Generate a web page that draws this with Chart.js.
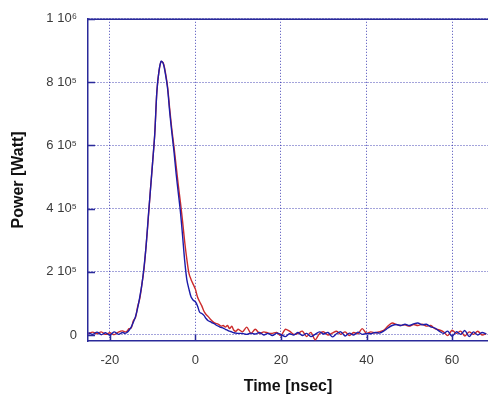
<!DOCTYPE html>
<html>
<head>
<meta charset="utf-8">
<script src="https://cdn.jsdelivr.net/npm/chart.js@4/dist/chart.umd.min.js"></script>
<style>
html,body{margin:0;padding:0;background:#fff;}
#wrap{width:488px;height:400px;}
</style>
</head>
<body>
<div id="wrap"><canvas id="c" width="488" height="400"></canvas></div>
<script>
// Time in nsec
const time = [-25,-24,-23,-22,-21,-20,-19,-18,-17,
 -16.5,-16,-15.5,-15,-14.5,-14,-13.5,-13,-12.5,-12,-11.5,-11,-10.5,-10,-9.5,-9,-8.5,-8,-7.5,-7,-6.5,-6,-5.5,-5,-4.5,-4,-3.5,-3,-2.5,-2,-1.5,-1,-0.5,0,0.5,1,1.5,2,2.5,3,3.5,4,4.5,5,5.5,6,6.5,7,7.5,8,8.5,9,9.5,10,
 11,12,13,14,15,16,17,18,19,20,21,22,23,24,25,26,27,28,29,30,31,32,33,34,35,36,37,38,39,40,41,42,43,44,45,46,47,48,49,50,51,52,53,54,55,56,57,58,59,60,61,62,63,64,65,66,67,68];

// Power in units of 1e5 W
const powerBlue = [0.07,0.02,0.09,0.01,0.07,-0.01,0.1,0.02,0.08,
 0.05,0.08,0.15,0.25,0.4,0.58,0.85,1.2,1.6,2.15,2.85,3.75,4.6,5.45,6.35,7.7,8.35,8.66,8.58,8.25,7.8,7.05,6.4,5.8,5.1,4.5,3.9,3.15,2.35,1.75,1.45,1.2,1.1,1.05,0.92,0.72,0.68,0.62,0.52,0.45,0.42,0.38,0.35,0.3,0.27,0.24,0.22,0.18,0.15,0.12,0.1,0.07,0.06,0.05,
 0.05,0.02,0.06,0.03,0.08,0.0,0.05,-0.02,0.06,0.02,-0.05,0.04,0.0,0.08,-0.02,0.05,-0.05,0.02,0.1,0.03,0.08,-0.06,0.04,0.1,-0.03,0.06,0.0,0.09,0.02,0.05,0.04,0.08,0.06,0.12,0.22,0.3,0.33,0.3,0.34,0.3,0.35,0.38,0.32,0.34,0.26,0.22,0.12,0.05,0.12,-0.04,0.1,0.02,0.14,-0.05,0.1,0.0,0.08,0.03];

const powerRed = [0.04,0.09,0.04,0.1,0.02,0.07,0.01,0.09,0.13,
 0.1,0.12,0.2,0.22,0.45,0.55,0.9,1.15,1.6,2.1,2.85,3.7,4.6,5.45,6.35,7.7,8.35,8.65,8.6,8.3,7.85,7.15,6.5,5.95,5.35,4.75,4.2,3.6,2.95,2.4,1.95,1.75,1.6,1.45,1.2,1.05,0.92,0.75,0.65,0.58,0.5,0.43,0.38,0.36,0.33,0.28,0.3,0.25,0.3,0.2,0.28,0.15,0.12,0.18,
 0.1,0.25,0.05,0.18,0.05,0.1,0.06,0.05,0.08,-0.02,0.18,0.12,0.02,0.05,0.12,-0.05,0.08,-0.15,0.04,0.1,0.0,0.06,0.12,0.02,0.1,-0.02,0.08,0.04,0.2,0.05,0.1,0.07,0.1,0.15,0.28,0.38,0.33,0.3,0.32,0.28,0.33,0.3,0.34,0.28,0.3,0.2,0.16,0.1,-0.02,0.15,0.05,0.12,-0.03,0.1,0.02,0.12,0.0,0.05];

const xTicks = [-20,0,20,40,60];
const xTickLabels = ['-20','0','20','40','60'];
const yTicks = [0,2,4,6,8,10];
const yTickLabels = ['0','2 10\u2075','4 10\u2075','6 10\u2075','8 10\u2075','1 10\u2076'];

const axisColor = '#2a2a9a';
const gridColor = 'rgba(40,40,170,0.85)';

const frame = {
  id:'frame',
  afterDatasetsDraw(chart){
    const {ctx, chartArea:a, scales:{x,y}} = chart;
    ctx.save();
    ctx.strokeStyle = axisColor;
    ctx.lineWidth = 1.5;
    ctx.beginPath();
    ctx.moveTo(a.left, a.top+0.5); ctx.lineTo(a.right, a.top+0.5);
    xTicks.forEach(v=>{const px=Math.round(x.getPixelForValue(v))+0.5;
      ctx.moveTo(px,a.bottom); ctx.lineTo(px,a.bottom-6);});
    yTicks.forEach(v=>{const py=Math.round(y.getPixelForValue(v))+0.5;
      ctx.moveTo(a.left,py); ctx.lineTo(a.left+7,py);});
    ctx.stroke();
    ctx.restore();
  }
};

new Chart(document.getElementById('c'), {
  type:'line',
  data:{
    datasets:[
      {label:'blue', data: time.map((t,i)=>({x:t,y:powerBlue[i]})), borderColor:'#1c1caa', borderWidth:1.4, pointRadius:0, tension:0.3, fill:false},
      {label:'red', data: time.map((t,i)=>({x:t,y:powerRed[i]})), borderColor:'#cc2b2b', borderWidth:1.4, pointRadius:0, tension:0.3, fill:false}
    ]
  },
  options:{
    responsive:false,
    animation:false,
    layout:{padding:{top:17,right:0,left:0,bottom:0}},
    plugins:{legend:{display:false}, tooltip:{enabled:false}},
    scales:{
      x:{type:'linear', min:-25.1, max:68.4,
        afterBuildTicks(s){ s.ticks = xTicks.map(v=>({value:v})); },
        afterFit(s){ s.height = 59; },
        ticks:{callback:(v,i)=>xTickLabels[i], color:'#3a3a3a', font:{family:'Liberation Sans, Arial', size:13}, padding:12, maxRotation:0},
        grid:{color:gridColor, lineWidth:1, drawTicks:false},
        border:{display:true, color:axisColor, width:1.5, dash:[1,2]},
        title:{display:true, text:'Time [nsec]', color:'#111', font:{family:'Liberation Sans, Arial', size:16, weight:'bold'}, padding:{top:6,bottom:4}}
      },
      y:{type:'linear', min:-0.19, max:10,
        afterBuildTicks(s){ s.ticks = yTicks.map(v=>({value:v})); },
        afterFit(s){ s.width = 88; },
        ticks:{callback:(v,i)=>yTickLabels[i], color:'#3a3a3a', font:{family:'Liberation Sans, Arial', size:13}, padding:11},
        grid:{color:gridColor, lineWidth:1, drawTicks:false},
        border:{display:true, color:axisColor, width:1.5, dash:[1,2]},
        title:{display:true, text:'Power [Watt]', color:'#111', font:{family:'Liberation Sans, Arial', size:16, weight:'bold'}, padding:{top:9,bottom:0}}
      }
    }
  },
  plugins:[frame]
});
</script>
</body>
</html>
